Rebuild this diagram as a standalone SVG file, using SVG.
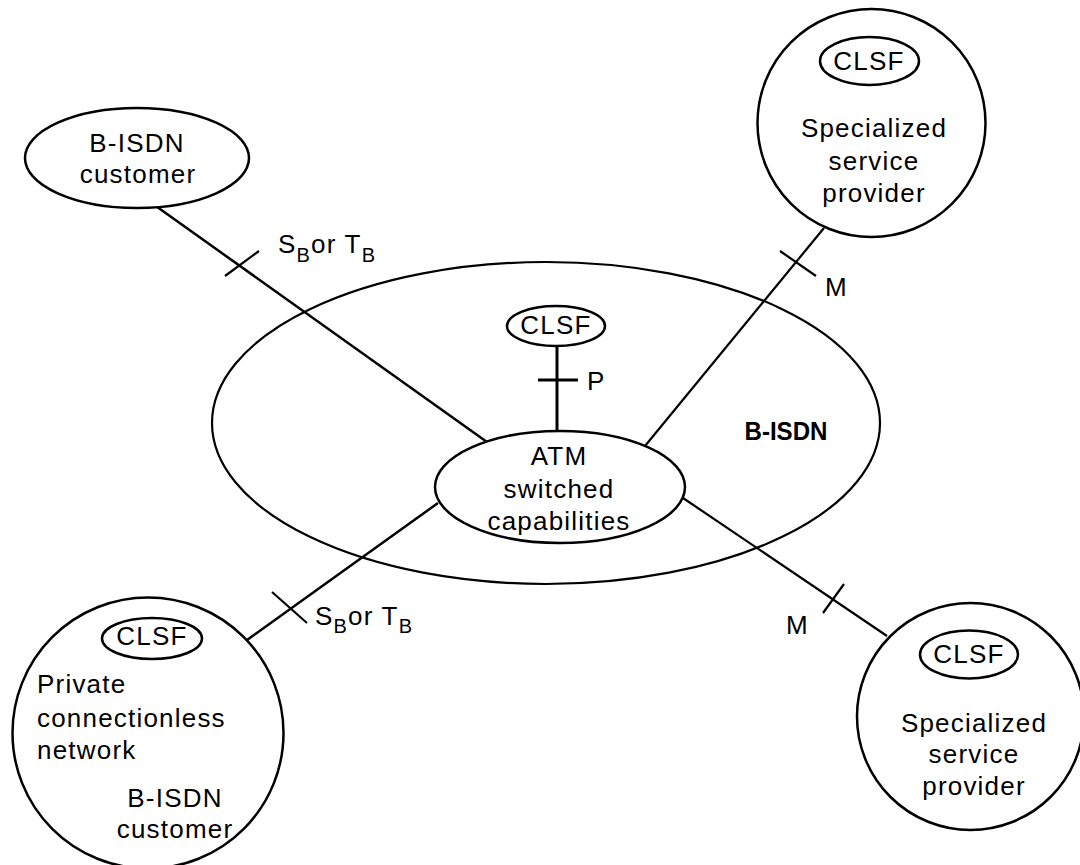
<svg xmlns="http://www.w3.org/2000/svg" width="1080" height="865" viewBox="0 0 1080 865">
<style>
.s{fill:none;stroke:#000;stroke-width:2.2}
.n{fill:#fff;stroke:#000;stroke-width:2.5}
.l{stroke:#000;stroke-width:2.2;fill:none}
.t{font-family:"Liberation Sans",Arial,sans-serif;font-size:26px;letter-spacing:1.2px;fill:#000}
.c{text-anchor:middle}
.b{font-family:"Liberation Sans",Arial,sans-serif;font-size:26px;font-weight:bold;fill:#000;text-anchor:middle}
.sub{font-size:20px}
</style>
<rect width="1080" height="865" fill="#fff"/>
<g id="bisdn">
<ellipse class="s" cx="546" cy="423" rx="334" ry="161"/>
<text class="b" x="786" y="440" textLength="83" lengthAdjust="spacingAndGlyphs">B-ISDN</text>
</g>
<g id="connectors">
<line class="l" x1="153" y1="204" x2="487" y2="442" style="stroke-width:2.5"/>
<line class="l" x1="225" y1="276" x2="259" y2="251"/>
<text class="t" x="278" y="253">S<tspan class="sub" dy="9">B</tspan><tspan dy="-9">or T</tspan><tspan class="sub" dy="9">B</tspan></text>
<line class="l" x1="824" y1="228" x2="645" y2="446"/>
<line class="l" x1="780" y1="251" x2="816" y2="276"/>
<text class="t" x="825" y="296">M</text>
<line class="l" x1="557" y1="345" x2="557" y2="432" style="stroke-width:3"/>
<line class="l" x1="538" y1="380" x2="578" y2="380" style="stroke-width:3"/>
<text class="t" x="587" y="390">P</text>
<line class="l" x1="247" y1="640" x2="438" y2="503" style="stroke-width:2.5"/>
<line class="l" x1="272" y1="592" x2="307" y2="623"/>
<text class="t" x="315" y="625">S<tspan class="sub" dy="8">B</tspan><tspan dy="-8">or T</tspan><tspan class="sub" dy="8">B</tspan></text>
<line class="l" x1="683" y1="498" x2="887" y2="636"/>
<line class="l" x1="823" y1="613" x2="844" y2="584"/>
<text class="t" x="786" y="634">M</text>
</g>
<g id="atm">
<ellipse class="n" cx="560" cy="487" rx="125" ry="56"/>
<text class="t c" x="559" y="465">ATM</text>
<text class="t c" x="559" y="498">switched</text>
<text class="t c" x="559" y="530">capabilities</text>
</g>
<g id="clsf-center">
<ellipse class="n" cx="556" cy="326" rx="49" ry="20"/>
<text class="t c" x="556" y="334">CLSF</text>
</g>
<g id="customer-top">
<ellipse class="n" cx="137" cy="158" rx="112" ry="50"/>
<text class="t c" x="137" y="152">B-ISDN</text>
<text class="t c" x="138" y="183">customer</text>
</g>
<g id="ssp-top">
<circle class="n" cx="871.5" cy="123" r="114"/>
<ellipse class="n" cx="869.5" cy="61" rx="49.5" ry="24"/>
<text class="t c" x="869" y="70">CLSF</text>
<text class="t c" x="874" y="137">Specialized</text>
<text class="t c" x="874" y="170">service</text>
<text class="t c" x="874" y="202">provider</text>
</g>
<g id="ssp-bottom">
<circle class="n" cx="970.5" cy="716.5" r="113.5"/>
<ellipse class="n" cx="969" cy="654.5" rx="49" ry="24"/>
<text class="t c" x="969" y="663">CLSF</text>
<text class="t c" x="974" y="732">Specialized</text>
<text class="t c" x="974" y="763">service</text>
<text class="t c" x="974" y="795">provider</text>
</g>
<g id="private">
<circle class="n" cx="148" cy="733" r="135.5"/>
<ellipse class="n" cx="152" cy="638.5" rx="50" ry="20.5"/>
<text class="t c" x="152" y="645">CLSF</text>
<text class="t" x="37" y="693">Private</text>
<text class="t" x="37" y="727">connectionless</text>
<text class="t" x="37" y="759">network</text>
<text class="t c" x="175" y="807">B-ISDN</text>
<text class="t c" x="175" y="838">customer</text>
</g>
</svg>
